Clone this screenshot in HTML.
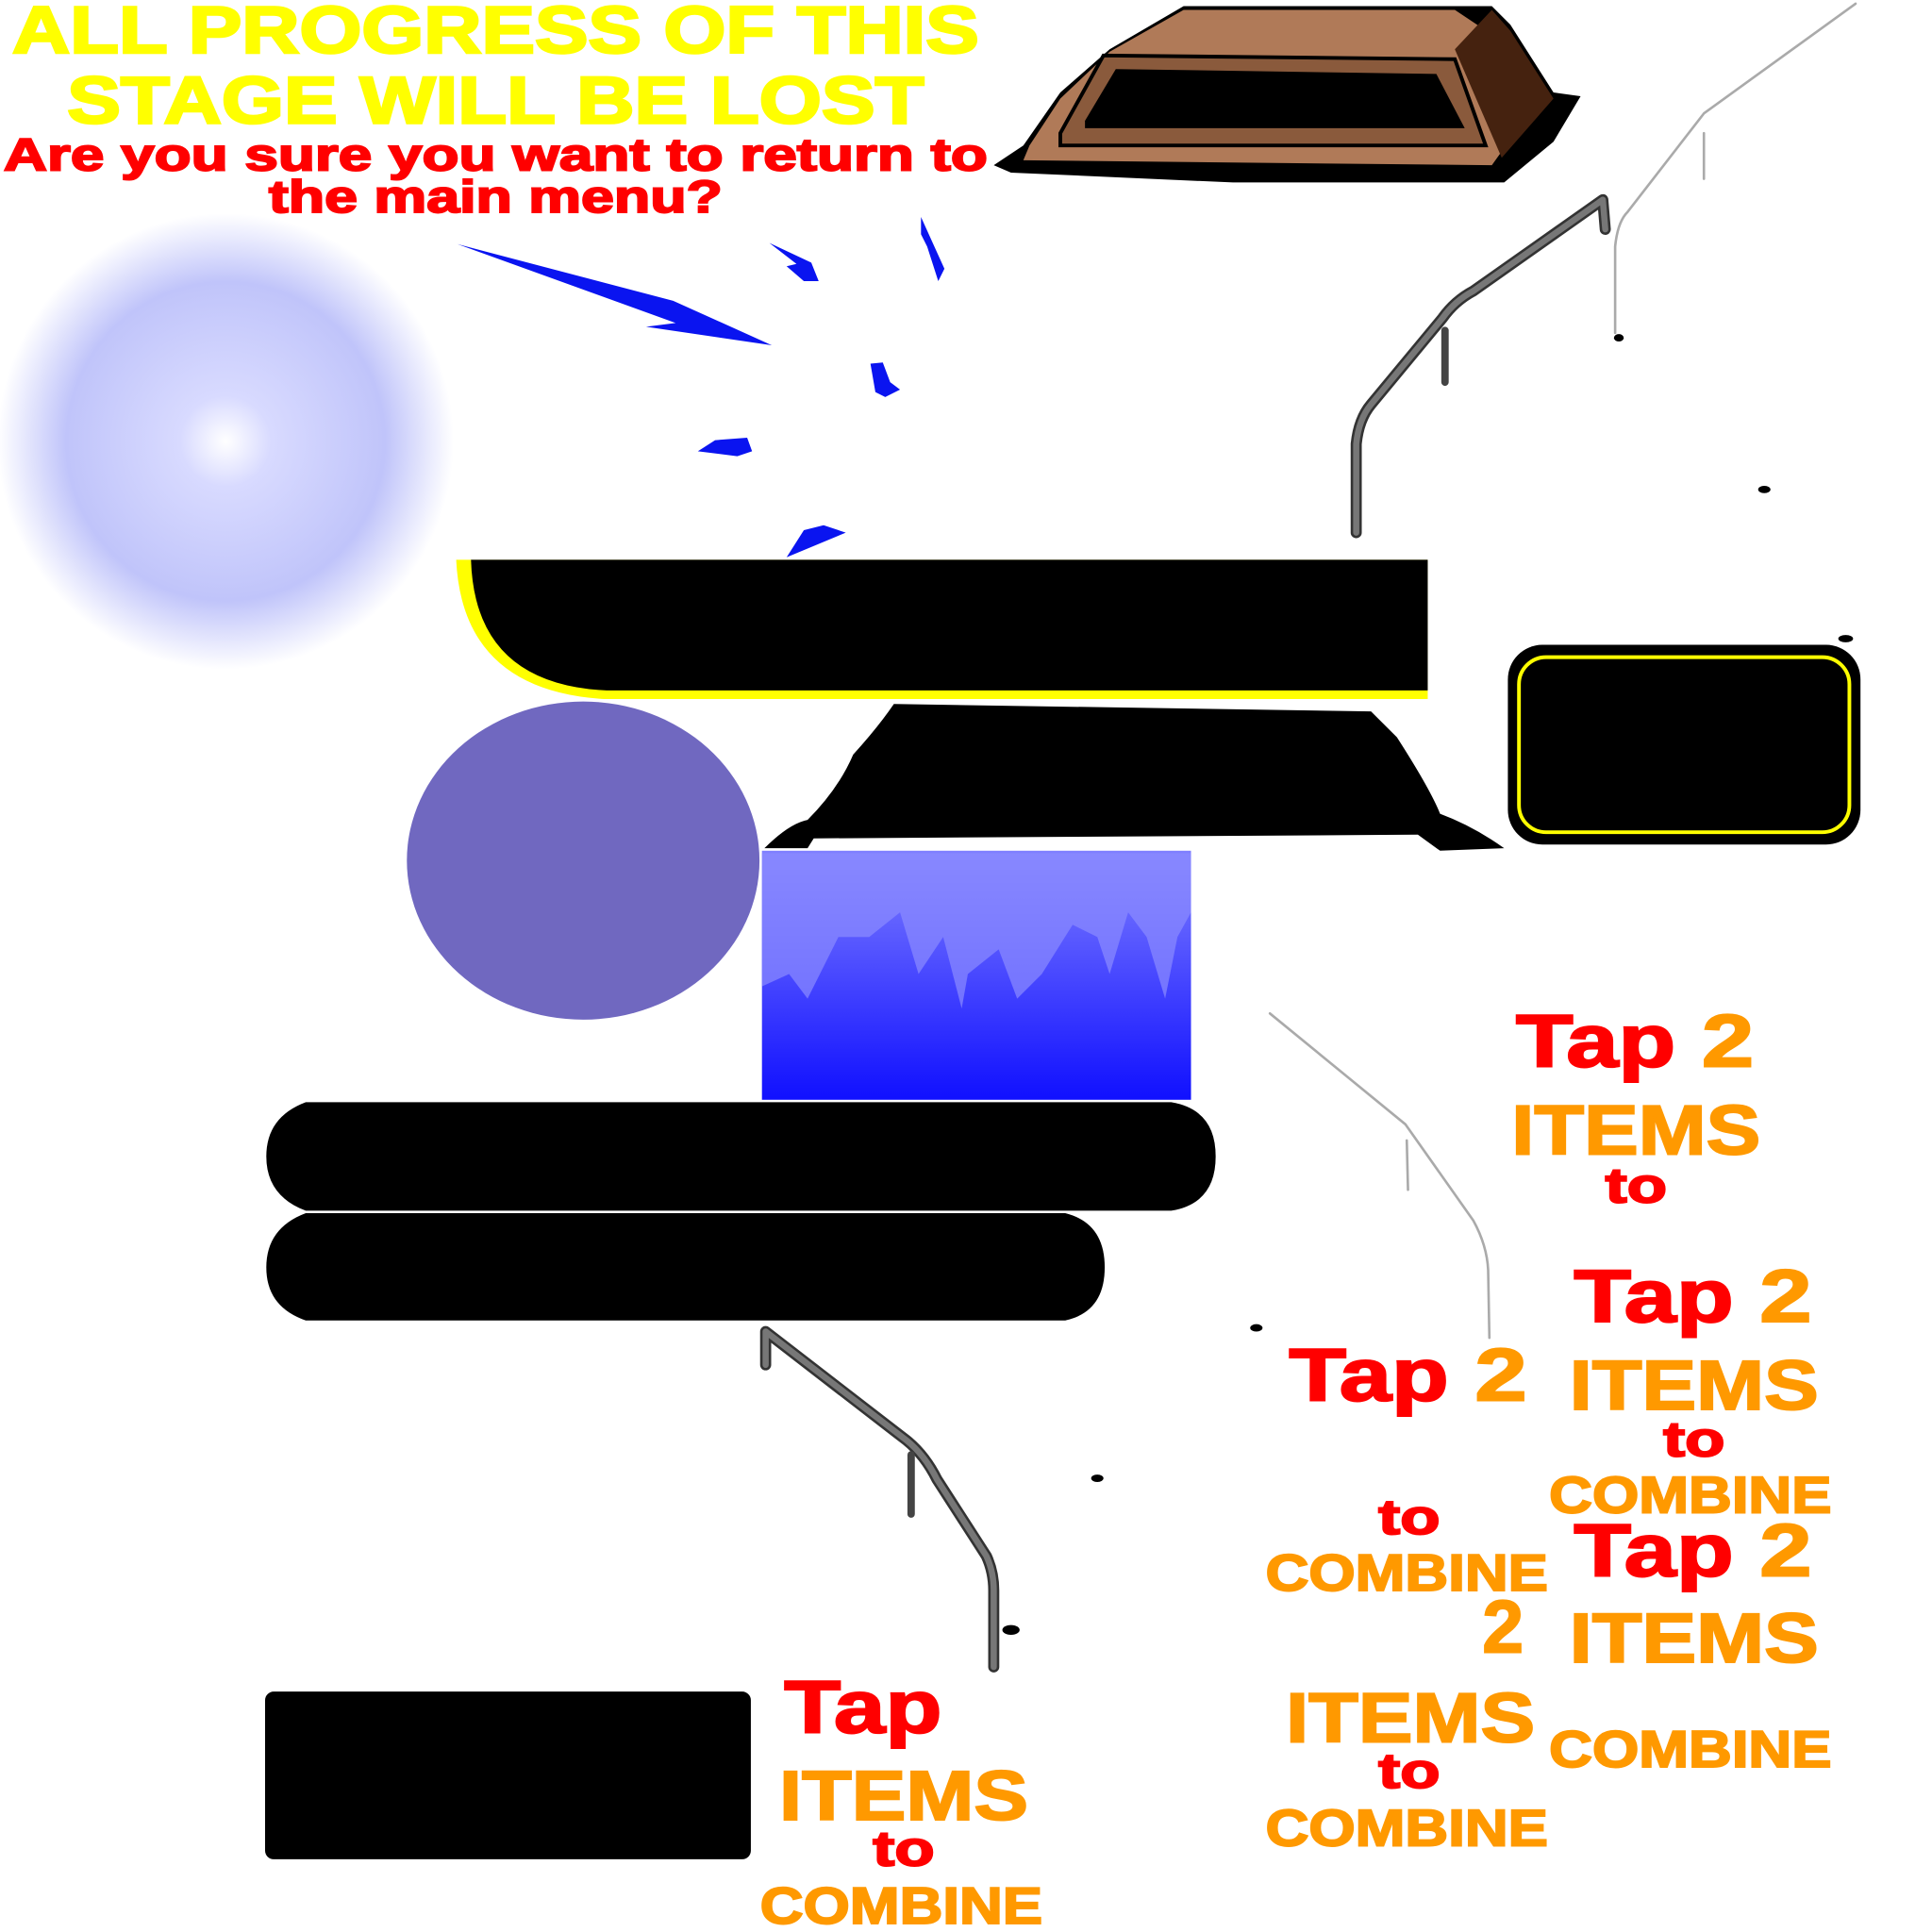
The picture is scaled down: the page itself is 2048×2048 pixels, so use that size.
<!DOCTYPE html>
<html><head><meta charset="utf-8"><style>
html,body{margin:0;padding:0;background:#fff;width:2048px;height:2048px;overflow:hidden}
svg{display:block}
text{font-family:"Liberation Sans",sans-serif;font-weight:bold;text-anchor:middle}
</style></head><body>
<svg width="2048" height="2048" viewBox="0 0 1567 1567" xmlns="http://www.w3.org/2000/svg">
<defs>
<radialGradient id="rg" cx="0.5" cy="0.5" r="0.5">
<stop offset="0" stop-color="#fff"/><stop offset="0.2" stop-color="#d8daff"/><stop offset="0.7" stop-color="#c0c4fa"/><stop offset="1" stop-color="#fff"/>
</radialGradient>
<linearGradient id="bg" x1="0" y1="0" x2="0" y2="1">
<stop offset="0" stop-color="#8080ff"/><stop offset="1" stop-color="#1010ff"/>
</linearGradient>
</defs>
<g fill="#ffff00" stroke="#ffff00" stroke-width="2" font-size="54">
<text x="402" y="43" textLength="784" lengthAdjust="spacingAndGlyphs">ALL PROGRESS OF THIS</text>
<text x="402" y="100" textLength="695" lengthAdjust="spacingAndGlyphs">STAGE WILL BE LOST</text>
</g>
<g fill="#ff0000" stroke="#ff0000" stroke-width="1.5" font-size="37">
<text x="402" y="138" textLength="798" lengthAdjust="spacingAndGlyphs">Are you sure you want to return to</text>
<text x="402" y="172" textLength="368" lengthAdjust="spacingAndGlyphs">the main menu?</text>
</g>
<circle cx="183" cy="358" r="185" fill="url(#rg)"/>
<g fill="#0a14f0">
<polygon points="371,198 546,244 626,280 524,265 548,262"/>
<polygon points="624,197 658,213 664,228 652,228 638,216 646,214"/>
<polygon points="747,176 766,218 761,228 752,200 747,190"/>
<polygon points="706,295 716,294 722,310 730,316 718,322 710,318"/>
<polygon points="566,366 580,357 606,355 610,366 598,370"/>
<polygon points="638,452 652,430 668,426 686,432"/>
</g>
<path d="M806,134 L830,118 L860,75 L900,40 L960,5 L1210,5 L1225,20 L1260,75 L1282,78 L1260,115 L1220,148 L1000,148 L820,140 Z" fill="#000"/>
<path d="M835,118 L860,80 L900,42 L960,8 L1180,8 L1210,28 L1220,120 L1210,134 L830,130 Z" fill="#b07a58"/>
<path d="M1180,40 L1210,8 L1225,25 L1260,80 L1218,128 Z" fill="#45220f"/>
<path d="M860,108 L895,45 L1180,48 L1205,118 L860,118 Z" fill="#8a5a3c" stroke="#000" stroke-width="3"/>
<path d="M880,98 L905,56 L1165,60 L1188,104 L880,104 Z" fill="#000"/>
<path d="M370,454 L1158,454 L1158,567 L490,567 Q375,560 370,454 Z" fill="#ffff00"/>
<path d="M382,454 L1158,454 L1158,560 L492,560 Q385,555 382,454 Z" fill="#000"/>
<path d="M725,571 L1112,577 L1133,598 Q1160,640 1168,660 Q1195,670 1220,688 L1168,690 L1150,677 L660,680 L655,688 L620,688 Q640,668 655,665 Q680,640 692,612 Q712,590 725,571 Z" fill="#000"/>
<rect x="1223" y="523" width="286" height="162" rx="28" fill="#000"/>
<rect x="1232" y="533" width="268" height="142" rx="22" fill="none" stroke="#ffff00" stroke-width="3"/>
<ellipse cx="473" cy="698" rx="143" ry="129" fill="#7068c0"/>
<rect x="618" y="690" width="348" height="202" fill="url(#bg)"/>
<path d="M618,692 L966,692 L966,740 L955,760 L945,810 L930,760 L915,740 L900,790 L890,760 L870,750 L845,790 L825,810 L810,770 L785,790 L780,818 L765,760 L745,790 L730,740 L705,760 L680,760 L655,810 L640,790 L618,800 Z" fill="#8c8cff" opacity="0.7"/>
<path d="M248,894 L950,894 Q986,900 986,938 Q986,976 950,982 L248,982 Q216,970 216,938 Q216,906 248,894 Z" fill="#000"/>
<path d="M248,984 L864,984 Q896,992 896,1028 Q896,1064 864,1071 L248,1071 Q216,1060 216,1028 Q216,996 248,984 Z" fill="#000"/>
<rect x="215" y="1372" width="394" height="136" rx="7" fill="#000"/>
<g fill="none" stroke-linejoin="round" stroke-linecap="round">
<path d="M1100,432 L1100,360 Q1102,340 1112,328 L1170,258 Q1180,244 1195,236 L1300,162 L1302,186" stroke="#333" stroke-width="9"/>
<path d="M1100,432 L1100,360 Q1102,340 1112,328 L1170,258 Q1180,244 1195,236 L1300,162 L1302,186" stroke="#777" stroke-width="5"/>
<path d="M1172,268 L1172,310" stroke="#444" stroke-width="6"/>
<path d="M621,1107 L621,1080 L735,1168 Q750,1180 760,1200 L800,1262 Q806,1275 806,1290 L806,1352" stroke="#333" stroke-width="9"/>
<path d="M621,1107 L621,1080 L735,1168 Q750,1180 760,1200 L800,1262 Q806,1275 806,1290 L806,1352" stroke="#777" stroke-width="5"/>
<path d="M739,1180 L739,1228" stroke="#444" stroke-width="6"/>
<path d="M1310,270 L1310,200 Q1312,180 1320,172 L1382,92 L1505,3" stroke="#aaa" stroke-width="2"/>
<path d="M1382,108 L1382,145" stroke="#aaa" stroke-width="2"/>
<path d="M1030,822 L1140,912 L1195,990 Q1206,1010 1207,1030 L1208,1085" stroke="#aaa" stroke-width="2"/>
<path d="M1141,925 L1142,965" stroke="#aaa" stroke-width="2"/>
</g>
<g fill="#000">
<ellipse cx="1313" cy="274" rx="4" ry="3"/><ellipse cx="1431" cy="397" rx="5" ry="3"/>
<ellipse cx="1497" cy="518" rx="6" ry="3"/><ellipse cx="1019" cy="1077" rx="5" ry="3"/>
<ellipse cx="890" cy="1199" rx="5" ry="3"/><ellipse cx="820" cy="1322" rx="7" ry="4"/>
</g>
<g stroke-width="1.5">
<g font-size="60">
<text x="1326" y="865" textLength="193" lengthAdjust="spacingAndGlyphs" fill="#f00" stroke="#f00">Tap <tspan fill="#f90" stroke="#f90">2</tspan></text>
<text x="1373" y="1072" textLength="193" lengthAdjust="spacingAndGlyphs" fill="#f00" stroke="#f00">Tap <tspan fill="#f90" stroke="#f90">2</tspan></text>
<text x="1373" y="1278" textLength="193" lengthAdjust="spacingAndGlyphs" fill="#f00" stroke="#f00">Tap <tspan fill="#f90" stroke="#f90">2</tspan></text>
<text x="1142" y="1136" textLength="193" lengthAdjust="spacingAndGlyphs" fill="#f00" stroke="#f00">Tap <tspan fill="#f90" stroke="#f90">2</tspan></text>
<text x="700" y="1405" textLength="128" lengthAdjust="spacingAndGlyphs" fill="#f00" stroke="#f00">Tap</text>
<text x="1219" y="1340" fill="#f90" stroke="#f90">2</text>
</g>
<g font-size="57" fill="#f90" stroke="#f90">
<text x="1327" y="936" textLength="202" lengthAdjust="spacingAndGlyphs">ITEMS</text>
<text x="1374" y="1143" textLength="202" lengthAdjust="spacingAndGlyphs">ITEMS</text>
<text x="1374" y="1348" textLength="202" lengthAdjust="spacingAndGlyphs">ITEMS</text>
<text x="1144" y="1413" textLength="202" lengthAdjust="spacingAndGlyphs">ITEMS</text>
<text x="733" y="1476" textLength="202" lengthAdjust="spacingAndGlyphs">ITEMS</text>
</g>
<g font-size="40" fill="#f00" stroke="#f00">
<text x="1327" y="975" textLength="50" lengthAdjust="spacingAndGlyphs">to</text>
<text x="1374" y="1181" textLength="50" lengthAdjust="spacingAndGlyphs">to</text>
<text x="1143" y="1244" textLength="50" lengthAdjust="spacingAndGlyphs">to</text>
<text x="1143" y="1450" textLength="50" lengthAdjust="spacingAndGlyphs">to</text>
<text x="733" y="1513" textLength="50" lengthAdjust="spacingAndGlyphs">to</text>
</g>
<g font-size="42" fill="#f90" stroke="#f90">
<text x="1371" y="1227" textLength="229" lengthAdjust="spacingAndGlyphs">COMBINE</text>
<text x="1141" y="1290" textLength="229" lengthAdjust="spacingAndGlyphs">COMBINE</text>
<text x="1371" y="1433" textLength="229" lengthAdjust="spacingAndGlyphs">COMBINE</text>
<text x="1141" y="1497" textLength="229" lengthAdjust="spacingAndGlyphs">COMBINE</text>
<text x="731" y="1560" textLength="229" lengthAdjust="spacingAndGlyphs">COMBINE</text>
</g>
</g>
</svg>
</body></html>
